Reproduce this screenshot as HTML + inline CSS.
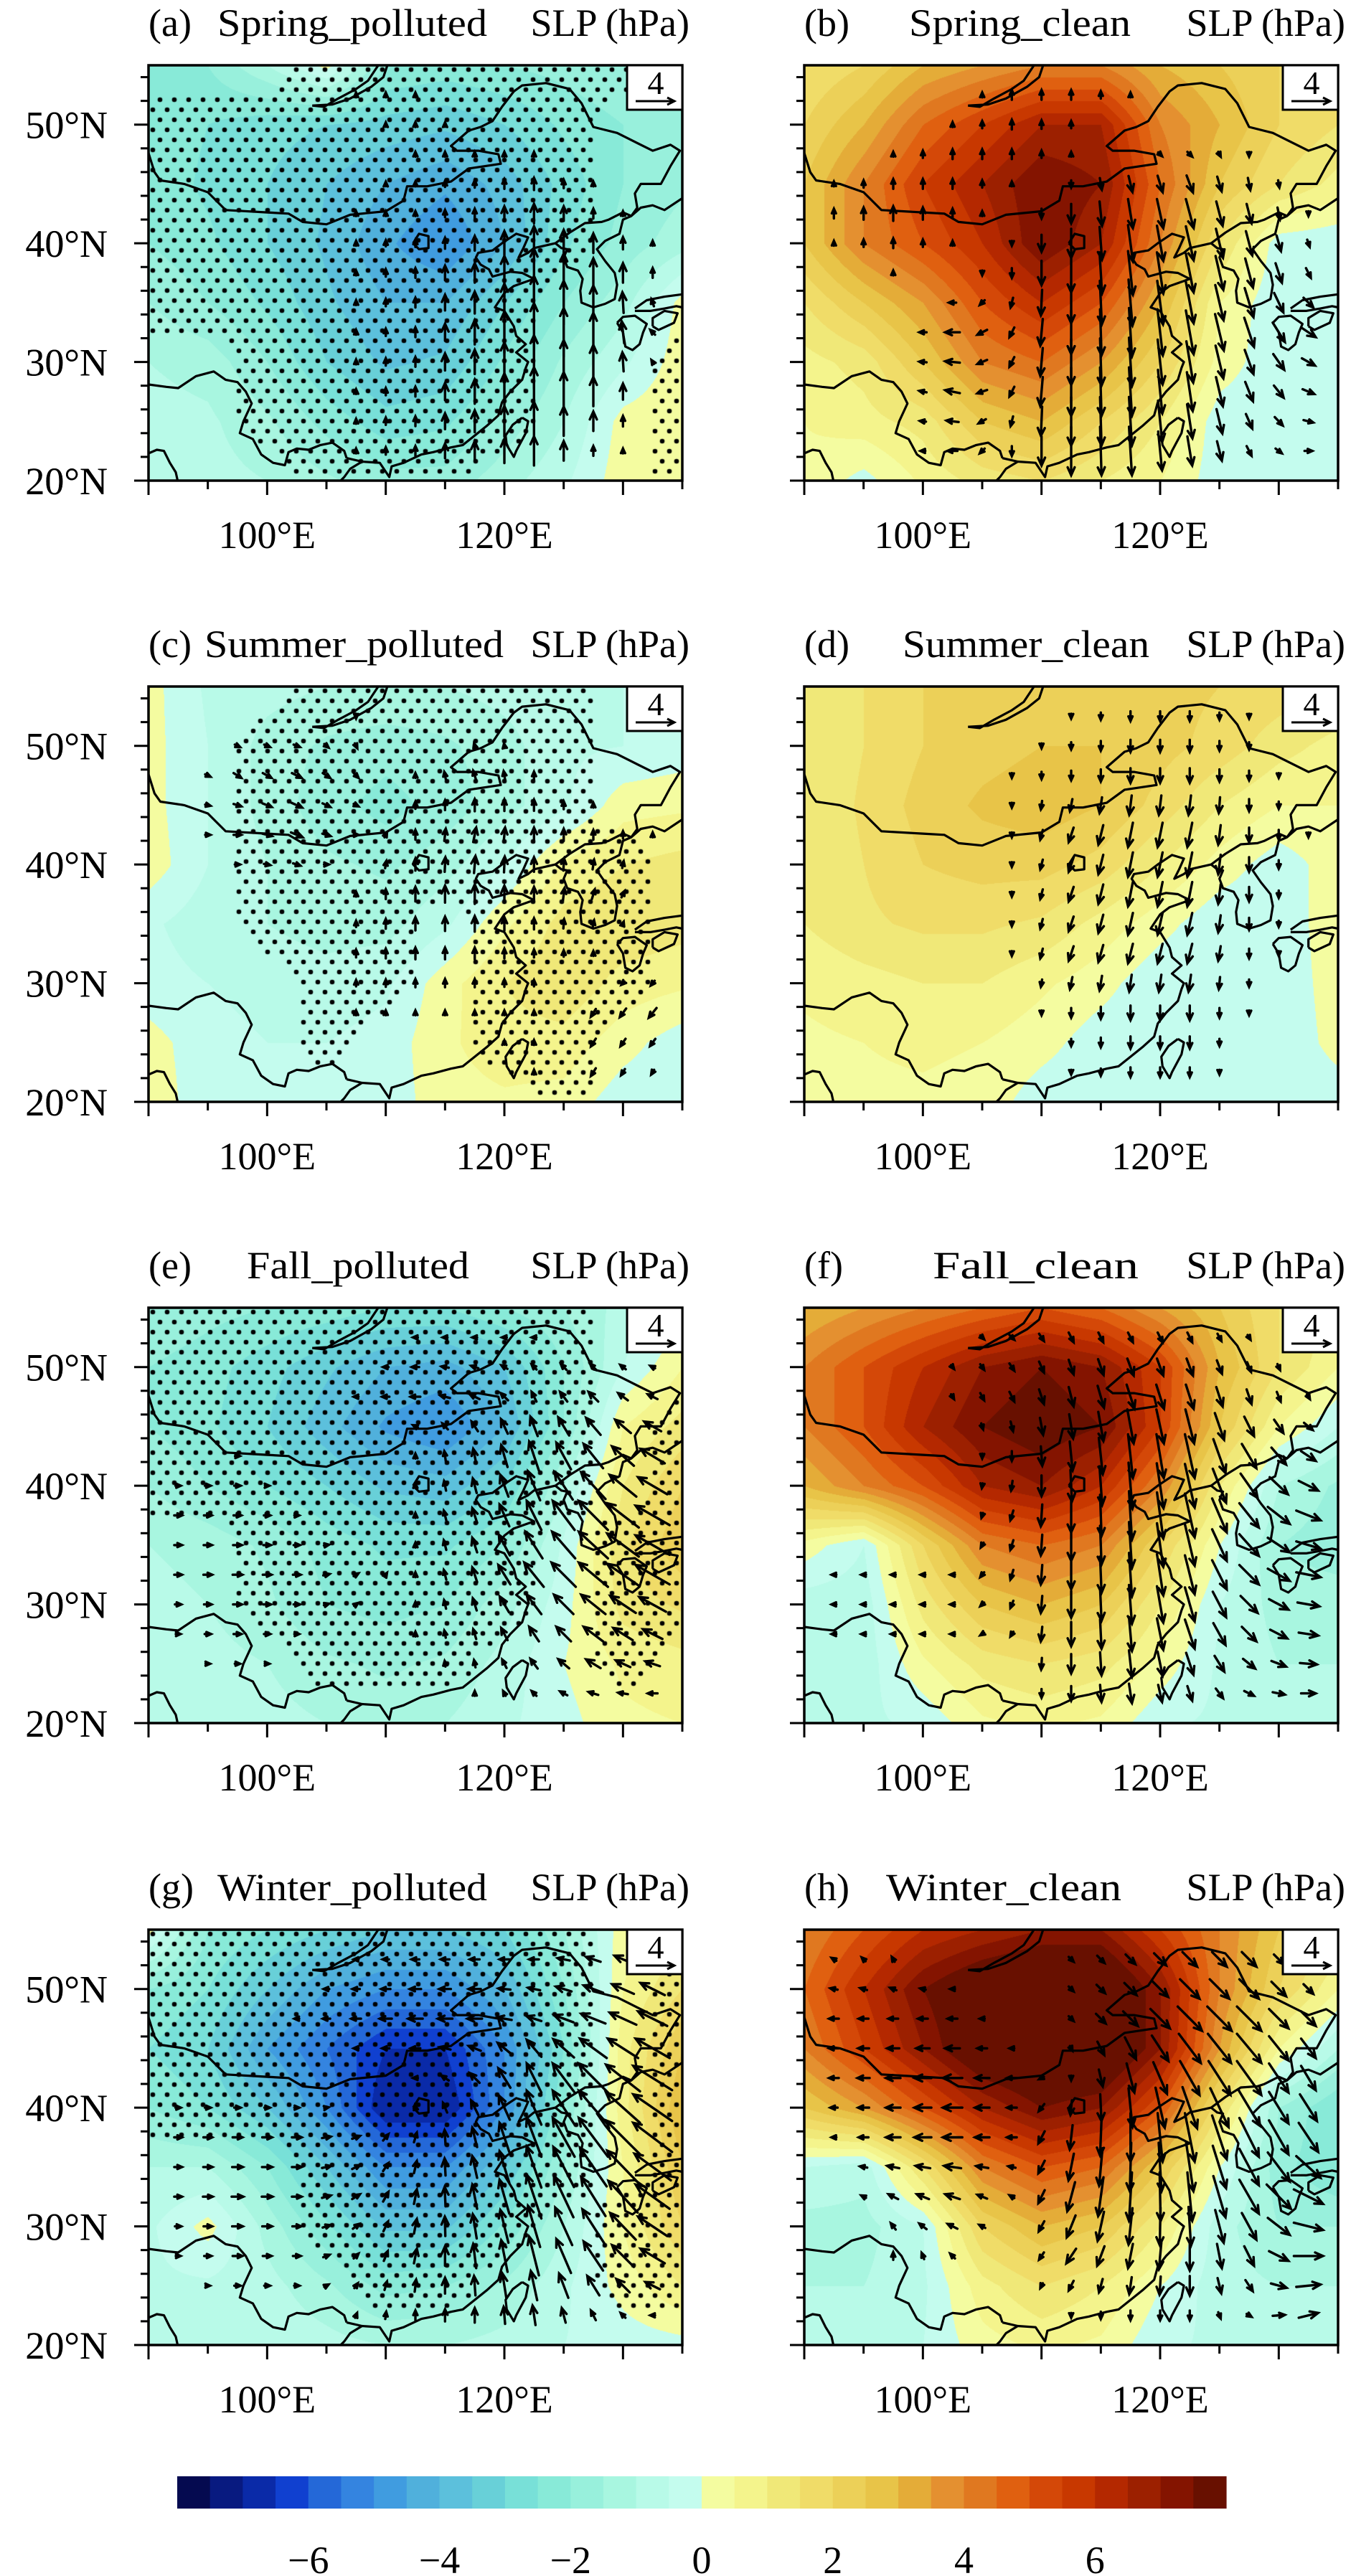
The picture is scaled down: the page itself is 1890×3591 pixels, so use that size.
<!DOCTYPE html>
<html><head><meta charset="utf-8">
<style>
html,body{margin:0;padding:0;background:#fff;}
body{width:1890px;height:3591px;position:relative;overflow:hidden;font-family:"Liberation Serif",serif;}
canvas{position:absolute;}
#ov{position:absolute;left:0;top:0;}
</style></head>
<body>
<div id="maps"></div>
<svg id="ov" width="1890" height="3591"></svg>
<script>
// ---------- data ----------
const gridLons=[90,95,100,105,110,115,120,125,130,135];
const gridLats=[55,50,45,40,35,30,25,20];
const panelIds=['a','b','c','d','e','f','g','h'];
const panelNames=['Spring_polluted','Spring_clean','Summer_polluted','Summer_clean','Fall_polluted','Fall_clean','Winter_polluted','Winter_clean'];
const levelTicks=[-6,-4,-2,0,2,4,6];
const latTicks=[50,40,30,20];
const lonTicks=[100,120];

const slpA=[[-2,-2,-1,0.2,-2,-2.2,-2,-1.8,-1.5,-1.3],[-2.2,-2.5,-2.8,-3,-3.2,-3.4,-3,-2.4,-2,-1.6],[-2.2,-2.6,-3,-3.5,-4,-4.4,-3.8,-2.8,-2,-1.6],[-2,-2.4,-3,-3.6,-4.4,-5,-4,-2.6,-1.8,-1.2],[-1.5,-2,-2.6,-3.4,-4,-4,-3,-2,-1.2,0.2],[-1,-1.2,-2,-3,-3.6,-3.4,-2.4,-1.4,-0.6,0.3],[-0.8,-0.9,-1.4,-2.2,-2.8,-2.6,-1.8,-1,0.2,0.4],[-0.8,-0.8,-1,-1.4,-1.8,-1.8,-1.2,-0.6,0.3,0.4]];
const slpB=[[1.5,2,3,3.5,4,4,3,2.5,2,1.5],[2,3,4.5,5.5,6.5,6.5,4,3,2,1.5],[2.5,4,5.5,6.5,7.5,7,4.5,2.5,1.5,0.8],[2.5,4,5,6,7.5,6.5,4,1.5,-0.3,-0.4],[1.5,2.5,3.5,5,6,5,3,0.5,-0.4,-0.3],[0.8,1.2,2.5,4,4.5,3.5,2,0.3,-0.4,-0.4],[0.5,0.8,1.2,2.5,3,2,1,-0.3,-0.4,-0.4],[0.4,-0.2,0.6,1.2,1.5,1,0.5,-0.3,-0.4,-0.4]];
const slpC=[[0.2,-0.6,-0.8,-1,-1,-1,-0.8,-0.7,-0.5,-0.5],[0.2,-0.5,-1.2,-1.6,-1.8,-1.6,-1.2,-0.6,-0.5,-0.3],[0.2,-0.5,-1.2,-1.8,-2.2,-1.8,-1.2,-0.6,0.3,0.4],[0.3,-0.5,-1,-1.4,-1.6,-1.2,-0.5,0.6,1,1.2],[-0.4,-0.8,-1,-1.2,-1.2,-0.6,0.4,1.2,1.4,1.2],[-0.3,-0.5,-0.7,-0.8,-0.6,0.3,1,1.4,0.8,0.6],[0.2,-0.3,-0.5,-0.5,-0.3,0.4,0.8,0.8,0.2,-0.3],[0.3,-0.3,-0.4,-0.4,-0.3,0.3,0.4,0.3,-0.3,-0.4]];
const slpD=[[1,1.5,2,2,2.2,2.3,2.2,2,1.8,1.5],[1,1.5,2,2.3,2.5,2.5,2.2,1.8,1.2,0.8],[1,1.6,2.2,2.6,2.8,2.5,1.8,1,0.5,0.5],[1,1.5,2,2.2,2.2,1.8,1,0.3,-0.3,0.3],[1,1.4,1.6,1.6,1.4,0.8,0.2,-0.4,-0.4,0.4],[0.6,0.8,1,1,0.6,0.2,-0.4,-0.5,-0.4,0.3],[0.4,0.5,0.6,0.5,0.2,-0.3,-0.5,-0.5,-0.4,0.2],[0.3,0.4,0.4,0.3,-0.3,-0.5,-0.5,-0.5,-0.4,-0.3]];
const slpE=[[-1.5,-1.8,-2,-2.2,-2.5,-2.5,-2,-1.5,-0.8,-0.3],[-2,-2.3,-2.8,-3.4,-4,-4.2,-3.5,-2,-0.5,0.5],[-2,-2.4,-3,-3.8,-4.6,-5,-4,-2,0.5,1.2],[-1.5,-2,-2.5,-3,-3.6,-3.8,-3,-1,1,2],[-1,-1.2,-1.6,-2.2,-2.6,-2.6,-2,-0.4,1.4,2.4],[-0.8,-1,-1.4,-2,-2.2,-2,-1.2,-0.2,1.2,1.6],[-0.8,-0.8,-1,-1.4,-1.6,-1.4,-0.8,0,0.6,0.8],[-0.7,-0.7,-0.8,-1,-1.2,-1,-0.6,-0.2,0.4,0.5]];
const slpF=[[3,3.5,4,4.5,5,4.5,3.5,2.5,1.5,1],[4,5,6,7,7.5,7,5.5,3,1.5,0.5],[4,5,6.5,7.5,8,7.5,5.5,2.5,0.5,-0.5],[3,4,5,6.5,7,6,4,1,-1,-1.6],[0.3,-0.5,2,4,4.5,4,2,0,-1.5,-1.8],[-0.8,-0.8,1.2,2.5,3,2.5,1,-0.5,-1.2,-1.2],[-0.8,-0.8,0.4,1.2,1.5,1.2,0.3,-0.6,-1,-1],[-0.6,-0.6,-0.4,0.4,0.6,0.4,-0.4,-0.6,-0.8,-0.8]];
const slpG=[[0.2,-2,-2.5,-3,-3.5,-3.5,-3,-1.5,0.3,0.8],[-2,-2.5,-3.5,-4.5,-5,-5,-4,-2,0.5,1.5],[-2.5,-3,-4.5,-5.5,-6.5,-6.5,-5,-2.5,0.8,2.5],[-2,-2.5,-3.5,-5,-7,-7,-5,-2,0.8,3],[-1,-1,-2,-3.5,-5,-5,-3.5,-1.5,0.5,2.5],[-0.6,0.2,-1.2,-2.4,-3.6,-3.6,-2.4,-1,0.5,2],[-0.6,-0.6,-0.8,-1.4,-2.2,-2,-1.4,-0.6,0.2,1],[-0.5,-0.5,-0.6,-0.8,-1,-1,-0.8,-0.5,-0.3,-0.2]];
const slpH=[[4,5,6,6.5,7,7,5.5,4,2.5,1.5],[4.5,6,7.5,8.5,9,9,7,4,2,0.5],[4,5.5,7,8.5,9,9,7,3.5,0.5,-1],[2.5,3.5,5,6.5,7.5,7,5,1.5,-1.5,-2.5],[-0.5,-0.8,1.5,4,5,4.5,2.5,0,-1.8,-2.5],[-1.2,-1.2,-0.5,2,3,2.5,1,-0.8,-1.5,-1.5],[-1,-1,-0.6,0.8,1.5,1,0,-0.8,-1,-1],[-0.6,-0.6,-0.5,0.3,0.6,0.4,-0.4,-0.6,-0.6,-0.6]];

const sigA=[[0,0,0,1,1,1,1,1,1,0],[1,1,1,1,1,1,1,1,0,0],[1,1,1,1,1,1,1,1,0,0],[1,1,1,1,1,1,1,1,0,0],[1,1,1,1,1,1,1,0,0,0],[0,0,1,1,1,1,1,0,0,1],[0,0,1,1,1,1,1,0,0,1],[0,0,0,1,1,1,0,0,0,1]];
const sigC=[[0,0,0,1,1,1,1,1,0,0],[0,0,1,1,1,1,1,1,0,0],[0,0,1,1,1,1,1,1,0,0],[0,0,1,1,1,1,1,1,1,0],[0,0,1,1,1,0,1,1,1,0],[0,0,0,1,1,0,1,1,1,0],[0,0,0,1,0,0,1,1,0,0],[0,0,0,0,0,0,0,1,0,0]];
const sigE=[[1,1,1,1,1,1,1,1,0,0],[1,1,1,1,1,1,1,1,0,0],[1,1,1,1,1,1,1,1,0,1],[1,1,1,1,1,1,1,1,0,1],[0,0,1,1,1,1,1,0,1,1],[0,0,1,1,1,1,1,0,1,1],[0,0,0,1,1,1,0,0,1,0],[0,0,0,0,0,0,0,0,0,0]];
const sigG=[[1,1,1,1,1,1,1,1,0,0],[1,1,1,1,1,1,1,1,0,1],[1,1,1,1,1,1,1,1,0,1],[1,1,1,1,1,1,1,1,0,1],[0,0,0,1,1,1,1,1,0,1],[0,0,0,1,1,1,1,0,1,1],[0,0,0,0,1,1,0,0,1,1],[0,0,0,0,0,0,0,0,0,0]];
const sigNone=null;

// winds on grid lon 92.5..132.5 step 5, lat 52.5..22.5 step 5
const windLons=[92.5,97.5,102.5,107.5,112.5,117.5,122.5,127.5,132.5];
const windLats=[52.5,47.5,42.5,37.5,32.5,27.5,22.5];
const Z=[0,0,0,0,0,0,0,0,0];
const uA=[Z,Z,Z,Z,[0,0,0,0,0,0,0,0,-0.5],Z,Z];
const vA=[[0,0,0,0.5,0.5,0.3,0,0,0],[0,0,0,0.3,0.5,0.5,0.5,0,0],[0,0,0.3,0.5,0.5,1,2,1,0],[0,0,0.3,0.5,1,2,5,3,1],[0,0,0.3,0.5,1,2.5,6,4,0.5],[0,0,0.3,0.5,1,2.5,5,3,0.3],[0,0,0,0.5,1,2,3,1,0]];
const uB=[Z,[0,0,0,0,0,0.3,0.5,0,0],[0,0,0,0,0,0.5,0.8,0.5,0],[0,0,0,0,0,0.5,0.8,0.8,0.5],[0,0,-1.5,-0.5,0,0.3,0.8,1,1.5],[0,0,-1.5,-0.5,0,0.3,0.6,0.8,1.2],[0,0,-1,0,0,0.3,0.5,0.5,0.8]];
const vB=[[0,0,0,1,1,0.5,0,0,0],[0,0.5,1,1,0.5,-0.3,-0.5,-0.5,0],[1,1.5,1,0,-2,-3,-3,-2,-0.5],[0,0.5,0,-1,-4,-4.5,-4,-3,-1],[0,0,0,-1,-4.5,-5,-4.5,-3,-1],[0,0,0.3,-1,-5,-5,-4,-2,-0.5],[0,0,0,-1,-5,-5,-3,-1,0]];
const uC=[[0.3,0.3,0.3,0,0,0,0,0,0],[0.3,0.8,1,0.5,0,-0.3,0,0,0],[0.3,0.8,1.2,0.5,0,0.3,0,0,0],[0,0.3,0.3,0,0,0,0,0.3,0.3],Z,[0,0,0,0,0,0,0,-0.5,-0.8],[0,0,0,0,0,0,0,-0.5,-0.3]];
const vC=[[0,0,0,-0.5,0,0,0,0,0],[0,-0.5,-0.5,-0.5,0.5,1,0.8,0,0],[0,0,-0.5,0,1,1.5,1.5,1,0.5],[0,0,0,0.5,1.5,2,1.5,1,0.3],[0,0,0,0.8,1.2,1.2,0.8,0.5,0],[0,0,0,0.5,0.5,0.5,0.5,-0.8,-1],[0,0,0,0.3,0.3,0.3,0.5,-0.8,-0.5]];
const uD=[Z,Z,[0,0,0,0,-0.5,-0.5,-0.5,0,0],[0,0,0,0,-0.5,-0.5,-0.5,0,0],[0,0,0,0,-0.5,-0.5,-0.5,0,0],Z,Z];
const vD=[[0,0,0,0,-0.5,-1,-1,-0.5,0],[0,0,0,-0.5,-1,-1.5,-1.5,-1,0],[0,0,0,-0.5,-1.5,-2.5,-2.5,-1.5,-0.5],[0,0,0,-0.5,-1.5,-2.5,-2.5,-1.5,0],[0,0,0,-0.5,-1.5,-2,-2,-1,0],[0,0,0,0,-1,-1.5,-1.5,-0.5,0],[0,0,0,0,-0.5,-1,-1,0,0]];
const uE=[[0,0,0,-0.3,-0.5,-0.5,-0.5,-0.3,0],[0,0,0,-0.5,-1,-1,-0.5,-1,-1],[0.3,0.5,0,0,0,-0.3,-1,-2,-2.5],[0.8,0.8,0.5,0.3,0,-0.5,-1.5,-3,-3.5],[0.8,1,0.8,0.5,0,-0.5,-2,-3,-3.5],[0.5,0.8,0.5,0.3,0,-0.3,-1,-2,-2],[0.3,0.3,0.3,0,0,0,-0.5,-1,-1]];
const vE=[[0,0,0,0,0,0,0,0.3,0],[0,0,0,0,0,0.5,1,1,0.5],[0,0,0,0,0.5,1.5,3,2.5,1.5],[0,0,0,0,0.5,1.5,3,3,2],[0,0,0,0.3,0.5,1.5,2.5,2.5,2],[0,0,0,0.3,0.5,1,1.5,1.5,1],[0,0,0,0,0.3,0.5,0.5,0.3,0]];
const uF=[[0,0,0.3,0.5,0.5,0.5,0.5,0.3,0],[0,0,0.3,0.5,0.5,0.8,0.8,0.5,0.3],[0,0,0,0,0.3,0.5,1,1.5,1.5],[0,0,0,-0.3,0,0.3,1,2,2.5],[-0.5,-0.5,-0.5,-0.3,0,0.3,1,2,2.5],[-0.5,-0.5,-0.5,-0.3,0,0.3,1,1.5,2],[0,0,-0.3,0,0,0.3,0.5,1,1.5]];
const vF=[[0,0,-0.3,-0.5,-1,-1,-1,-0.5,0],[0,0,-0.5,-1,-2,-2.5,-2.5,-1.5,-0.5],[0,0,0,-1,-3,-4.5,-4.5,-2.5,-1],[0,0,0,-1,-3.5,-5,-4.5,-2.5,-1],[0,0,0,-1,-3,-4.5,-4,-2,-0.5],[0,0,0,-0.5,-2.5,-3.5,-3,-1.5,-0.3],[0,0,0,-0.3,-1.5,-2,-1.5,-0.5,0]];
const uG=[[0,0,-0.3,-0.5,-0.8,-1,-1,-1.5,-2],[0,0,-0.5,-1,-1.5,-1.5,-1.5,-2.5,-3],[0.3,0.3,0,0,-0.5,-1,-1.5,-3,-4],[0.8,1,1,0.8,0.3,-0.5,-1.5,-3,-4],[0.8,1.2,1,0.8,0.3,-0.5,-1.5,-2.5,-3.5],[0.5,1,0.8,0.5,0.3,-0.3,-1,-2,-2.5],[0,0.3,0.3,0.2,0,0,-0.3,-0.5,-0.5]];
const vG=[[0,0,0,0,0,0,0,0.5,1],[0,0,0,0,0,0,0.5,1,1.5],[0,0,0,0,0,1,3,3,2.5],[0,0,0,0.3,1,2,4,4,3],[0,0,0,0.5,1.5,2.5,4.5,4,2.5],[0,0,0,0.5,1.5,2.5,4,3,1.5],[0,0,0,0.5,1,1.5,2,1,0]];
const uH=[[-0.5,-0.3,0,0,0.5,1,1.5,1.5,0.5],[-1,-1,-1,0,0.5,1.5,2.5,2.5,1.5],[-1,-1.5,-2,-1,0,0.8,2,2.5,1.5],[-0.5,-1.5,-2,-1,-0.3,0,1,2,2],[0,-1,-1.5,-0.5,-0.8,-0.3,0.5,2,3],[0,0,-0.5,0,-1,-0.5,0,1,3],[0,0,0,0,0,0,0,0.5,2]];
const vH=[[0.3,0.5,0,0,-0.5,-1,-1.5,-1.5,-0.5],[0,0,0,0,-0.5,-1.5,-2.5,-2.5,-1.5],[0,0,0,0,-0.5,-3,-3.5,-3.5,-2.5],[0,0,0,0,-2.5,-5,-5,-4,-3],[0,0.5,0.5,0.3,-3,-5,-5,-3.5,-1.5],[0,0.8,0.5,0,-1.5,-2.5,-3,-2,0],[0,0,0,0,-0.5,-1,-1,-0.3,0.5]];

const slpFields=[slpA,slpB,slpC,slpD,slpE,slpF,slpG,slpH];
const sigFields=[sigA,sigNone,sigC,sigNone,sigE,sigNone,sigG,sigNone];
const uFields=[uA,uB,uC,uD,uE,uF,uG,uH];
const vFields=[vA,vB,vC,vD,vE,vF,vG,vH];

const palette=['#050a50','#081a80','#0a2aa8','#1040d0','#2468d8','#3484e0','#409ce0','#50b0dc','#5cc0dc','#68d0d8','#78e0d8','#88ead8','#98f0dc','#a8f6e0','#b8fae8','#c4fcee','#f4fca0','#f4f48c','#f0e878','#f0dc68','#ecd058','#e8c448','#e4ac38','#e49030','#e07820','#e06010','#d44808','#c83800','#b42800','#9c2000','#841400','#681000'];

// coastlines / borders (lon,lat)
const coastChina=[[106.7,21.9],[108,21.6],[109.5,21.5],[110.3,20.3],[110.5,21.2],[111.5,21.5],[113,22.2],[114,22.4],[115.5,22.8],[116.5,23],[117.5,23.8],[118.5,24.6],[119.5,25.5],[119.8,26.6],[120.5,27.5],[121.5,28.5],[121.8,29.5],[122,30],[121,30.8],[121.8,31.5],[121,32.2],[120.8,33],[120,34.3],[119.2,34.6],[120,35.8],[120.8,36.4],[122.5,37],[121.5,37.5],[120.5,37.6],[119,37.2],[118.7,37.8],[118,38.2],[117.6,38.8],[117.8,39.2],[119,39.4],[119.8,40],[121,40.8],[122,40.5],[121.6,39.6],[121.2,38.8],[122,39.2],[122.5,39.6],[124.3,40],[124.8,39.6],[125.3,39.5],[125,38.8],[125.3,38],[126.2,37.7],[126.6,37],[126.4,36],[126.5,35],[127.5,34.6],[128.5,34.9],[129.3,35.3],[129.5,36.5],[129.3,37.5],[128.5,38.5],[127.8,39.5],[128.5,40.2],[129.7,40.8],[130,42],[130.7,42.3],[131.5,43],[132.5,43.2],[133.5,42.8],[135,43.8]];
const borderNorth=[[90,47.6],[90.5,46],[91,45.3],[93,45],[95,44.3],[96.5,42.8],[100,42.6],[101.8,42.5],[103,41.8],[105,41.6],[107,42.4],[110,42.7],[111.5,43.6],[111.8,44.8],[113.5,44.8],[115.5,45.2],[117,46.3],[119.7,46.7],[119.5,47.5],[117.8,47.8],[116,47.8],[115.5,48.2],[117,49.5],[118,49.8],[119,50.3],[119.8,51.5],[120.8,52.8],[121.5,53.3],[123.5,53.5],[125.5,53],[126.5,51.8],[127.5,49.8],[129.5,49.3],[130.5,48.8],[132.5,47.8],[134,48.3],[134.8,47.8],[134,46.5],[133.2,45],[131.5,45],[131,44.2],[131.2,43],[130.7,42.3]];
const borderKorea=[[124.3,40],[125.5,40.9],[126.8,41.7],[128.2,41.8],[128.8,42],[130,42.6],[130.7,42.3]];
const borderSW=[[90,28.1],[91.5,27.9],[92.5,27.8],[94,28.8],[95.5,29.2],[96.5,28.5],[97.5,28.3],[98.2,27.5],[98.7,26.5],[98,25],[97.7,24],[98.8,23.5],[99.5,22.2],[100.5,21.5],[101.5,21.3],[101.8,22.4],[102.5,22.7],[103.5,22.6],[104.5,23],[105.5,23.2],[106.5,22.5],[106.7,21.9]];
const coastVietnam=[[108,21.6],[107,21],[106.5,20.3],[106,19.8]];
const coastBengal=[[90,22.3],[90.7,22.6],[91.3,22.5],[91.8,21.5],[92.3,20.7],[92.5,19.8]];
const taiwan=[[121.5,25.3],[122,25],[121.8,24],[121,22.5],[120.8,22],[120.2,23],[120.1,23.8],[120.7,24.7],[121.5,25.3]];
const baikal=[[103.8,51.6],[104.8,51.5],[106,52.2],[107.5,53],[108.5,53.7],[109.5,55.2],[110.2,55.2],[109.8,54],[108.8,53.2],[107,52.2],[105.5,51.7],[103.8,51.6]];
const kyushu=[[129.5,33.3],[130,32.5],[130.2,31.3],[130.8,31],[131.4,31.5],[131.7,32.5],[132,33.2],[131,33.9],[130,33.8],[129.5,33.3]];
const honshuS=[[131,34.3],[132.3,34.3],[133.5,34.5],[134.5,34.7],[135,34.6]];
const honshuN=[[131,34.5],[132,35.2],[133.5,35.5],[135,35.7]];
const shikoku=[[132.5,33],[133,32.7],[134.3,33.3],[134.6,34.1],[133.5,34.3],[132.5,33.7],[132.5,33]];
const innerLoop=[[112.3,40],[112.8,40.8],[113.6,40.6],[113.6,39.6],[112.8,39.5],[112.3,40]];
const coastLines=[coastChina,borderNorth,borderKorea,borderSW,coastVietnam,coastBengal,taiwan,baikal,kyushu,honshuS,honshuN,shikoku,innerLoop];

// ---------- layout ----------
const colX=[207,1121], rowY=[91,957,1823,2690], MW=744, MH=579;
const LON0=90,LON1=135,LAT0=20,LAT1=55;
const NS='http://www.w3.org/2000/svg';
const svg=document.getElementById('ov');
const maps=document.getElementById('maps');
function el(tag,attrs,parent){const e=document.createElementNS(NS,tag);for(const k in attrs)e.setAttribute(k,attrs[k]);(parent||svg).appendChild(e);return e;}
function bil(g,fx,fy){const nr=g.length,nc=g[0].length;fx=Math.max(0,Math.min(nc-1,fx));fy=Math.max(0,Math.min(nr-1,fy));const i=Math.min(nc-2,Math.floor(fx)),j=Math.min(nr-2,Math.floor(fy));const tx=fx-i,ty=fy-j;return g[j][i]*(1-tx)*(1-ty)+g[j][i+1]*tx*(1-ty)+g[j+1][i]*(1-tx)*ty+g[j+1][i+1]*tx*ty;}
function hex(c){return [parseInt(c.slice(1,3),16),parseInt(c.slice(3,5),16),parseInt(c.slice(5,7),16)];}
const palRGB=palette.map(hex);

panelIds.forEach((pid,k)=>{
  const x0=colX[k%2], y0=rowY[Math.floor(k/2)];
  const sx=lon=>x0+(lon-LON0)/(LON1-LON0)*MW;
  const sy=lat=>y0+(LAT1-lat)/(LAT1-LAT0)*MH;
  const cv=document.createElement('canvas');cv.width=MW;cv.height=MH;cv.style.left=x0+'px';cv.style.top=y0+'px';
  
  
  maps.appendChild(cv);
  const ctx=cv.getContext('2d');const img=ctx.createImageData(MW,MH);
  const g=slpFields[k];
  for(let py=0;py<MH;py++){const lat=LAT1-py/MH*(LAT1-LAT0);const fy=(gridLats[0]-lat)/5;
    for(let px=0;px<MW;px++){const lon=LON0+px/MW*(LON1-LON0);const v=bil(g,(lon-gridLons[0])/5,fy);
      let idx=Math.floor((v+8)/0.5);idx=Math.max(0,Math.min(31,idx));const c=palRGB[idx];const o=(py*MW+px)*4;
      img.data[o]=c[0];img.data[o+1]=c[1];img.data[o+2]=c[2];img.data[o+3]=255;}}
  ctx.putImageData(img,0,0);
  const sg=sigFields[k];
  if(sg){ctx.fillStyle='#000';let r=0;
    for(let py=6;py<MH;py+=14,r++){for(let px=(r%2?16:6);px<MW;px+=20){
      const lon=LON0+px/MW*(LON1-LON0),lat=LAT1-py/MH*(LAT1-LAT0);
      if(bil(sg,(lon-90)/5,(55-lat)/5)>=0.5){ctx.beginPath();ctx.arc(px,py,3.3,0,6.283);ctx.fill();}}}}
  const grp=el('g',{});
  
  
  const clipId='clip'+pid;
  const cp=el('clipPath',{id:clipId},grp);el('rect',{x:x0,y:y0,width:MW,height:MH},cp);
  const cg=el('g',{'clip-path':'url(#'+clipId+')',fill:'none',stroke:'#000','stroke-width':3.2,'stroke-linejoin':'round'},grp);
  
  
  coastLines.forEach(line=>{const d='M'+line.map(p=>sx(p[0]).toFixed(1)+','+sy(p[1]).toFixed(1)).join('L');
    const p=el('path',{d:d},cg);
    
    });
  const ag=el('g',{'clip-path':'url(#'+clipId+')',fill:'none',stroke:'#000','stroke-width':3.4,'stroke-linecap':'round'},grp);
  
  
  const U=uFields[k],V=vFields[k],PXU=13.5;
  for(let lat=52.5;lat>=22.4;lat-=2.5){for(let lon=92.5;lon<=132.6;lon+=2.5){
    const fx=(lon-windLons[0])/5,fy=(windLats[0]-lat)/5;const u=bil(U,fx,fy),v=bil(V,fx,fy);const m=Math.hypot(u,v);
    if(m<0.45)continue;const L=m*PXU;const dx=u/m,dy=-v/m;const cx=sx(lon),cy=sy(lat);
    const x1=cx-dx*L/2,y1=cy-dy*L/2,x2=cx+dx*L/2,y2=cy+dy*L/2;const h=Math.min(12,Math.max(7,L*0.5));
    const a=0.42,hx1=x2-h*(dx*Math.cos(a)-dy*Math.sin(a)),hy1=y2-h*(dy*Math.cos(a)+dx*Math.sin(a)),hx2=x2-h*(dx*Math.cos(a)+dy*Math.sin(a)),hy2=y2-h*(dy*Math.cos(a)-dx*Math.sin(a));
    const p=el('path',{d:`M${x1.toFixed(1)},${y1.toFixed(1)}L${x2.toFixed(1)},${y2.toFixed(1)}M${hx1.toFixed(1)},${hy1.toFixed(1)}L${x2.toFixed(1)},${y2.toFixed(1)}L${hx2.toFixed(1)},${hy2.toFixed(1)}`},ag);
    
    }}
  const fr=el('rect',{x:x0,y:y0,width:MW,height:MH,fill:'none',stroke:'#000','stroke-width':3.5},grp);
  
  
  const tg=el('g',{stroke:'#000','stroke-width':3},grp);
  
  
  for(let lat=20;lat<=55;lat+=2){const major=lat%10===0;el('line',{x1:x0,x2:x0-(major?20:11),y1:sy(lat),y2:sy(lat)},tg);}
  for(let lon=90;lon<=135;lon+=5){const major=lon%10===0;el('line',{x1:sx(lon),x2:sx(lon),y1:y0+MH,y2:y0+MH+(major?20:12)},tg);}
  latTicks.forEach(lat=>{const t=el('text',{x:150,y:sy(lat)+19,'text-anchor':'end','font-size':54,'font-family':'"Liberation Serif",serif'},grp);t.textContent=lat+'°N';
    
    });
  lonTicks.forEach(lon=>{const t=el('text',{x:sx(lon),y:y0+MH+94,'text-anchor':'middle','font-size':54,'font-family':'"Liberation Serif",serif'},grp);t.textContent=lon+'°E';
    
    });
  const by=y0-41;
  const t1=el('text',{x:x0,y:by,'font-size':54,'font-family':'"Liberation Serif",serif'},grp);t1.textContent='('+pid+')';
  
  
  const nameStart=[303,1267,285,1258,344,1300,303,1235][k], nameEnd=[679,1576,702,1602,654,1587,679,1563][k];
  const t2=el('text',{x:nameStart,y:by,'font-size':54,'font-family':'"Liberation Serif",serif',textLength:nameEnd-nameStart,lengthAdjust:'spacingAndGlyphs'},grp);t2.textContent=panelNames[k];
  
  
  const t3=el('text',{x:x0+MW+10,y:by,'text-anchor':'end','font-size':54,'font-family':'"Liberation Serif",serif'},grp);t3.textContent='SLP (hPa)';
  
  
  const rg=el('g',{},grp);
  
  
  const rx=x0+MW-77, ry=y0;
  el('rect',{x:rx,y:ry,width:77,height:62,fill:'#fff',stroke:'#000','stroke-width':3},rg);
  const rt=el('text',{x:rx+40,y:ry+40,'text-anchor':'middle','font-size':46,'font-family':'"Liberation Serif",serif'},rg);rt.textContent='4';
  el('path',{d:`M${rx+12},${ry+50}L${rx+66},${ry+50}M${rx+56},${ry+45}L${rx+66},${ry+50}L${rx+56},${ry+55}`,stroke:'#000','stroke-width':3,fill:'none'},rg);
});

// ---------- colorbar ----------
const cbX=247, cbY=3452, cbW=1462, cbH=45;
const cb=el('g',{});


const bw=cbW/palette.length;
palette.forEach((c,i)=>{const r=el('rect',{x:cbX+i*bw,y:cbY,width:bw+0.6,height:cbH,fill:c},cb);
  
  });
levelTicks.forEach(v=>{const i=(v+8)/0.5;const t=el('text',{x:cbX+i*bw,y:3587,'text-anchor':'middle','font-size':54,'font-family':'"Liberation Serif",serif'},cb);t.textContent=(v<0?'\u2212':'')+Math.abs(v);
  
  });
</script>
</body></html>
